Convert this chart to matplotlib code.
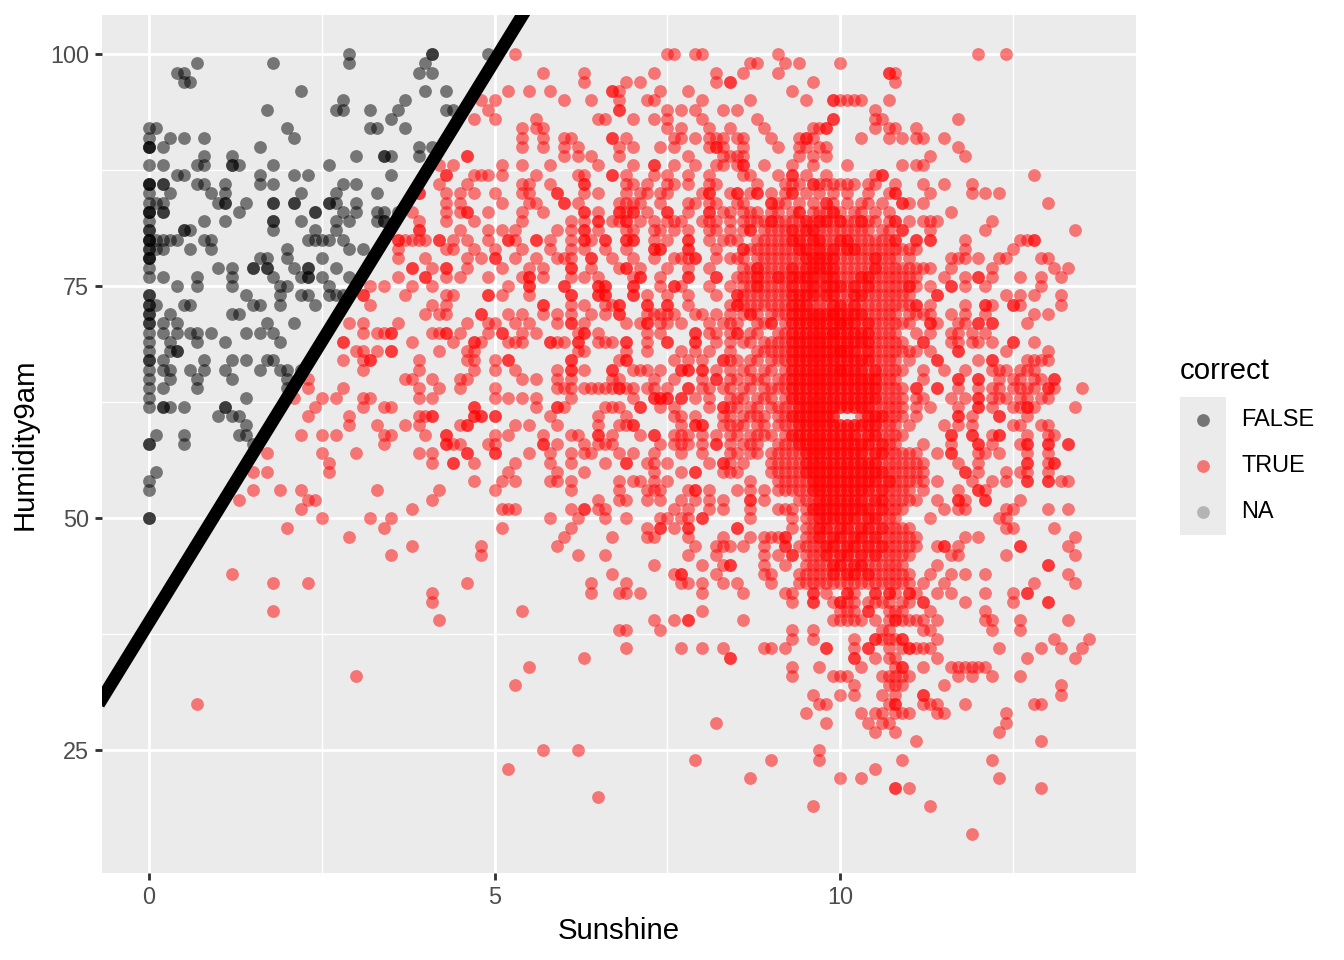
import matplotlib
matplotlib.use("Agg")
import matplotlib.pyplot as plt
from matplotlib.patches import Rectangle

plt.rcParams['font.family'] = ['Liberation Sans', 'DejaVu Sans']

# ---------------- data ----------------
# decision boundary (abline)
LINE_INTERCEPT = 38.8
LINE_SLOPE = 12.1

x_ticks = [0, 5, 10]
y_ticks = [25, 50, 75, 100]
legend_title = "correct"
legend_labels = ["FALSE", "TRUE", "NA"]
legend_colors = ["#000000", "#FF0000", "#7F7F7F"]

# Humidity9am -> Sunshine values (in tenths of an hour), points where correct == FALSE
false_rows = {
    100: "29 41 41 49",
    99: "7 18 29 40",
    98: "4 5 39 41",
    97: "5 6",
    96: "22 40 43",
    95: "28 37",
    94: "17 27 28 32 36 43 44",
    93: "35",
    92: "0 1 20 32 33 37",
    91: "0 3 5 8 21",
    90: "0 0 0 2 16 39 41",
    89: "8 12 30 34 34 35 39",
    88: "0 2 7 8 12 12 13 18 26",
    87: "4 5 16 21 23 35",
    86: "0 0 0 2 2 7 8 11 16 18 28 30",
    85: "0 3 9 11 22 27 33",
    84: "0 1 2 10 11 11 14 18 18 21 21 26 26 27 30",
    83: "0 0 0 2 2 13 24 24 28 30 33 34 36",
    82: "0 8 11 18 18 22 27 29 33 34 34",
    81: "0 0 5 5 6 18 24 27",
    80: "0 0 0 1 2 3 4 8 9 23 24 25 26 28",
    79: "0 0 1 2 6 9 20 29 31",
    78: "0 0 0 16 17 20 25",
    77: "0 10 12 15 15 17 17 21 23 23 27",
    76: "0 2 7 12 18 22 23 23 25 29",
    75: "4 7 12 19 20 26",
    74: "0 0 14 19 22 23 26 27 28",
    73: "0 0 1 5 6 15 16 19 24",
    72: "0 0 3 12 13",
    71: "0 0 2 4 17 21",
    70: "0 2 4 6 7 9 14 16 18",
    69: "0 3 7 11 19",
    68: "0 3 4 4",
    67: "0 0 2 8 12 14 17 18",
    66: "0 2 3 6 8 11 16 19 20 22",
    65: "0 3 7 12 20",
    64: "0 2 7 20",
    63: "0 14",
    62: "0 2 2 3 5 11 11",
    61: "10 12 13",
    60: "14",
    59: "1 5 13 14",
    58: "0 0 5 15",
    55: "1",
    54: "0",
    53: "0",
    50: "0 0",
}

# Humidity9am -> Sunshine values (in tenths of an hour), points where correct == TRUE
true_rows = {
    100: "53 75 76 79 80 91 120 124",
    99: "87 88 92 94 100",
    98: "57 63 73 82 86 91 107 107 108",
    97: "63 69 71 82 84 84 96 108",
    96: "52 55 58 67 67 68 74 78 93",
    95: "48 50 60 64 68 72 73 80 87 95 99 99 100 101 102 103 107",
    94: "49 68 68 75 77 79 83 85 105",
    93: "47 50 56 65 66 70 73 75 80 88 99 99 105 106 117",
    92: "54 56 57 75 77 81 84 89 96 97 98 98 105 107 108 111",
    91: "54 57 60 61 67 67 69 76 77 79 81 82 83 85 86 90 94 95 95 96 103 107 109 111 112 115",
    90: "54 57 60 62 68 70 74 76 81 82 82 83 86 91 94 95 97 98 117",
    89: "46 46 60 62 64 68 78 83 84 85 86 94 96 98 113 118",
    88: "42 44 51 54 58 65 70 73 73 76 79 82 83 85 86 86 89 93 96 101 109 111 112",
    87: "43 43 47 48 49 51 56 62 63 67 67 69 73 75 78 81 86 87 91 93 93 95 98 105 106 106 128",
    86: "42 46 54 55 58 63 63 69 70 72 75 76 78 81 82 93 94 96 96 98 99 101 102 105 108 112 115 119 88 92 97 100 104",
    85: "39 39 43 45 47 50 54 55 59 59 63 65 69 71 72 74 75 80 81 81 85 85 87 88 88 93 93 95 107 108 108 113 119 121 123 84 90 92 97 99 101 104",
    84: "43 45 51 55 56 60 60 62 68 69 70 71 74 78 79 81 82 86 90 90 91 98 98 103 106 109 109 110 112 130 85 92 94 96 99 101 104",
    83: "38 43 45 46 46 49 54 57 63 63 65 68 68 69 70 70 72 75 75 78 81 81 83 84 86 88 91 94 94 97 99 99 102 107 116 87 90 93 96 98 100 103 105",
    82: "39 43 47 54 61 63 65 65 67 68 69 69 71 73 75 76 77 80 81 82 84 86 87 88 90 90 91 94 95 96 97 98 98 100 100 102 103 103 105 107 108 108 110 112 113 114 122 89 92 93 95 97 99 101 104",
    81: "39 39 45 49 51 53 59 61 63 63 65 69 70 73 74 76 78 81 82 84 87 87 89 90 93 93 95 96 97 99 101 102 103 106 109 109 113 121 134 86 91 92 94 95 96 98 100 104 107",
    80: "36 36 37 38 39 40 42 42 44 46 49 52 52 53 56 56 58 61 63 63 64 66 66 69 69 70 70 73 75 78 78 81 83 84 85 88 89 91 93 93 95 96 99 101 101 103 106 108 108 111 111 113 113 118 126 127 128 128 90 92 94 94 96 97 97 98 100 100 102 104 105 107",
    79: "36 43 44 47 50 54 58 61 63 66 69 73 73 74 74 78 78 82 86 86 90 91 93 95 95 96 98 100 102 102 106 108 109 118 125 87 88 89 92 94 94 97 97 99 99 101 101 103 104 105 107 110 111",
    78: "36 40 46 48 50 50 53 56 59 60 61 64 64 67 70 73 76 77 78 79 79 82 84 85 90 93 95 95 97 98 98 100 101 105 105 116 117 118 120 123 124 129 130 86 88 89 91 92 94 96 96 97 99 99 102 103 104 106 107 108 110",
    77: "38 38 41 43 43 46 51 55 57 61 61 64 68 69 69 71 75 78 81 88 88 90 93 93 94 96 96 97 98 98 100 101 102 105 105 108 111 112 113 116 122 131 133 86 87 89 91 92 95 95 97 99 99 103 104 106 107 109 110",
    76: "36 40 40 43 45 49 54 55 55 57 61 63 65 70 71 71 74 78 78 82 82 86 88 88 91 91 92 93 93 95 95 97 98 100 103 103 105 106 107 110 115 118 120 120 122 126 129 132 85 87 89 90 94 94 96 96 98 99 99 101 102 104 104 108 109 111",
    75: "32 34 38 41 52 55 55 60 60 65 65 66 66 70 70 74 76 76 77 81 84 88 88 90 91 92 95 95 97 100 100 101 102 102 104 104 106 108 110 110 113 116 116 118 121 129 86 87 89 93 93 94 96 96 98 98 99 99 103 105 107 109 111",
    74: "31 31 37 43 44 49 49 51 55 61 61 65 65 66 66 70 70 72 75 78 82 85 85 87 90 92 93 94 94 95 95 97 100 101 102 102 104 105 106 109 114 114 124 126 128 132 86 88 89 91 93 96 96 98 98 99 99 103 103 107 108 110",
    73: "32 41 43 57 57 61 63 66 67 68 68 72 72 75 75 78 85 85 87 91 92 94 94 96 100 100 102 102 105 106 108 111 111 113 118 121 121 122 125 125 126 132 84 86 88 89 90 93 93 95 95 97 98 99 99 101 103 104 107 109 110",
    72: "40 42 43 48 48 52 54 57 59 61 64 66 68 68 72 73 74 75 76 79 80 82 84 86 87 87 88 90 91 92 93 94 95 96 96 97 97 98 99 99 100 101 101 102 103 104 105 106 107 108 110 111 112 113 116 118 121 128 130 93 94 95 98 99 100 102 103",
    71: "29 31 36 46 49 50 53 55 59 61 61 63 69 71 72 72 74 75 77 81 83 84 85 88 89 90 90 92 93 94 95 95 96 97 97 98 99 99 100 100 101 102 103 104 105 106 107 108 109 110 113 113 114 117 118 120 120 122 122 127 93 94 96 98 100 101 102 104",
    70: "31 33 34 35 35 41 42 43 43 45 49 51 51 54 56 62 63 63 65 72 74 79 79 81 82 84 85 85 87 88 91 92 93 94 94 95 96 97 97 98 99 99 100 100 101 102 102 103 104 105 106 107 108 111 113 116 117 119 121 93 95 96 98 99 101 103 104",
    69: "28 28 38 44 47 47 48 52 53 54 58 58 59 60 62 62 65 66 67 69 69 72 75 75 79 79 82 84 86 87 89 90 91 92 93 93 94 95 96 96 97 98 98 99 100 100 101 102 103 104 104 105 106 107 108 109 112 112 116 117 119 120 122 125 125 128 94 95 97 99 101 102 103",
    68: "30 31 33 35 35 42 46 47 62 63 69 72 77 79 81 84 88 89 90 91 92 93 94 95 95 96 97 97 98 98 99 100 100 101 102 103 104 105 106 107 108 109 110 111 113 117 117 124 130 93 94 96 99 100 101 102 104",
    67: "28 31 32 32 39 46 47 50 52 52 61 61 68 69 69 76 78 80 83 83 84 85 87 88 90 91 92 93 94 94 95 96 96 97 97 98 99 100 100 101 102 102 103 104 105 106 107 108 110 114 114 120 122 122 127 128 129 130 93 95 98 99 101 103 104",
    66: "31 39 47 50 53 59 61 61 63 67 67 70 71 72 74 77 77 78 78 80 80 82 84 86 87 89 90 92 93 94 95 95 96 97 98 98 99 100 100 101 101 102 103 104 105 106 107 108 109 112 115 118 122 123 124 126 127 128 93 94 96 97 99 100 102 103 105",
    65: "23 37 38 41 45 46 54 56 59 61 67 68 73 76 80 82 82 84 85 87 88 89 91 92 93 93 94 95 96 97 97 98 99 99 100 100 101 102 103 103 104 105 106 107 108 112 117 117 120 120 123 125 126 128 129 131 131 94 95 96 98 101 102 104 105",
    64: "23 28 39 42 45 50 59 60 61 63 64 65 66 67 68 68 69 70 72 73 75 78 78 80 81 83 84 86 87 89 90 91 92 93 94 94 95 96 97 97 98 99 99 100 101 101 102 103 104 104 105 106 107 108 109 111 111 114 114 117 120 122 123 125 126 127 128 130 130 131 135 93 95 96 98 100 102 103 105",
    63: "21 25 27 31 32 39 41 50 52 54 56 61 70 73 73 74 74 75 75 77 77 79 81 84 85 86 88 89 90 92 93 94 95 95 96 97 98 98 99 100 100 101 102 102 103 104 105 106 107 108 109 111 112 116 118 120 120 122 123 124 126 127 129 130 93 94 96 97 99 101 103 104 105",
    62: "24 31 34 35 47 47 56 59 59 60 66 67 68 71 71 74 76 81 83 83 84 85 87 88 90 91 92 93 94 95 96 96 97 98 99 99 100 101 101 102 103 104 105 106 107 108 109 111 113 117 120 120 122 125 126 127 127 128 134 94 95 97 98 100 102 103 104",
    61: "23 29 39 40 41 41 47 47 48 48 50 50 58 65 69 76 77 79 83 84 86 87 88 89 91 92 93 94 95 96 96 97 98 99 99 103 104 105 105 106 107 108 109 111 117 117 119 123 123 127 93 94 95 97 98 104 106",
    60: "29 33 37 39 45 46 46 53 55 59 65 68 69 70 70 77 79 79 80 80 83 84 85 86 88 89 91 92 93 94 95 96 96 97 98 98 99 100 101 102 102 103 104 105 106 107 108 110 115 117 119 125 126 129 130 94 95 97 99 100 101 103 104 105",
    59: "22 25 27 34 35 40 43 43 50 52 57 61 62 65 65 67 71 73 73 76 77 78 80 82 84 85 87 88 89 90 92 93 93 94 95 96 97 97 98 99 100 101 102 102 103 104 105 106 107 108 109 116 116 119 119 122 123 123 127 130 131 94 95 96 98 99 100 101 104 105",
    58: "34 43 43 44 45 49 50 57 57 59 63 65 66 67 74 76 77 78 80 82 82 84 86 87 88 91 92 93 94 95 96 97 97 98 98 99 100 100 101 102 103 104 105 106 107 108 112 116 120 120 122 126 127 127 130 130 133 133 94 95 96 99 101 102 103 104 106",
    57: "17 25 30 39 41 46 46 50 50 55 58 61 63 64 68 70 73 77 80 84 85 87 88 90 91 92 93 94 95 96 97 97 98 99 99 100 101 102 103 104 105 106 107 108 109 110 111 114 116 116 120 121 123 127 130 95 96 98 100 101 102 103 105 106",
    56: "26 41 44 44 47 53 58 61 66 69 69 72 73 75 81 83 83 84 86 90 91 92 93 94 95 96 96 97 98 99 99 100 101 102 102 103 104 105 106 107 108 109 110 111 112 117 120 127 127 130 131 131 95 97 98 100 101 103 104 105",
    55: "15 17 26 52 59 63 73 77 79 79 83 84 85 90 91 92 93 94 95 96 97 98 98 99 100 101 102 103 103 104 105 106 107 108 109 110 111 112 118 118 120 124 126 127 130 95 96 97 99 100 101 102 104 105 106",
    54: "47 51 53 58 59 61 68 70 71 73 75 87 91 92 93 94 95 96 97 98 98 99 100 101 101 102 103 104 105 106 107 108 109 110 111 112 114 119 122 124 127 127 130 130 132 133 96 97 99 100 102 103 104 105 107",
    53: "15 19 22 33 42 50 61 68 72 73 74 78 79 79 81 85 87 89 91 92 93 94 95 96 97 98 99 99 100 101 101 102 103 104 105 106 107 108 109 110 112 117 120 120 121 96 97 98 100 102 103 104 106",
    52: "13 23 24 41 65 68 69 72 74 77 79 81 83 87 87 89 94 95 96 97 98 99 100 100 101 102 103 104 105 106 107 108 109 110 111 114 117 117 118 121 121 126 97 98 99 101 102 103 105 106",
    51: "22 38 51 52 53 61 63 63 65 66 76 78 81 83 87 91 92 93 95 96 97 98 99 100 101 102 102 103 104 105 106 107 108 109 115 117 118 124 125 130 133 96 97 98 99 100 101 103 104 106",
    50: "25 32 35 58 62 66 69 74 75 77 78 80 80 87 93 95 96 97 98 99 100 100 101 102 103 104 105 106 107 108 113 123 124 97 98 99 101 102 104 105",
    49: "20 34 51 61 72 74 74 76 78 78 85 85 93 95 96 97 98 99 100 101 102 103 104 105 106 107 108 109 110 124 125 131 97 98 100 101 103 104 106",
    48: "29 60 67 72 73 78 83 87 89 90 91 92 92 95 96 97 98 99 100 101 102 103 104 105 106 107 108 109 110 111 118 120 134 97 99 100 102 103 105",
    47: "38 48 59 79 82 83 84 86 89 92 92 94 95 96 97 98 99 100 101 102 103 104 105 106 107 108 109 110 111 114 115 115 117 126 126 133 98 99 101 102 104 106",
    46: "35 48 62 66 78 82 89 91 93 93 95 96 97 98 99 100 101 102 103 104 105 106 107 108 109 110 116 117 124 134 98 100 101 103 105",
    45: "73 80 83 84 84 89 92 95 96 97 98 99 100 101 102 103 104 105 106 107 108 109 114 130 130 99 100 102 103",
    44: "12 67 76 77 77 82 89 90 94 95 96 97 98 99 100 101 102 103 104 105 106 107 108 109 110 113 116 118 121 133 99 101 102 104",
    43: "18 23 46 64 69 77 78 80 83 85 90 94 95 96 97 98 99 100 101 102 103 104 105 106 107 108 109 110 112 115 128 134",
    42: "41 64 68 69 71 80 86 92 93 96 96 98 101 101 102 105 105 107 107 108 110 110 111 114 116 121 125 127 127",
    41: "41 93 96 96 99 100 100 101 102 104 105 106 107 109 110 112 112 118 125 130 130",
    40: "18 54 80 100 101 102 104 104 107 108 109 113 121",
    39: "42 73 76 78 78 86 99 100 101 102 103 105 107 108 108 109 110 111 112 114 121 122 126 133",
    38: "68 69 74 93 96 106 107 112 113 122 126",
    37: "93 96 102 105 105 106 107 108 109 109 114 131 136",
    36: "69 77 80 83 89 90 92 98 98 102 104 104 107 109 110 110 111 112 113 123 129 132 135",
    35: "63 84 84 102 102 105 107 108 114 127 134",
    34: "55 93 97 103 108 109 109 112 116 117 118 119 120 121",
    33: "30 93 99 100 101 106 107 108 109 110 117 119 122 126",
    32: "53 102 107 108 109 115 132",
    31: "96 100 102 106 108 112 112 132",
    30: "7 97 98 107 108 108 112 113 114 118 128 129",
    29: "95 103 105 106 108 109 110 114 115 124",
    28: "82 98 104 106 107 124",
    27: "105 108 123",
    26: "111 129",
    25: "57 62 97",
    24: "79 90 97 109 122",
    23: "52 105",
    22: "87 100 103 123",
    21: "108 108 110 129",
    20: "65",
    19: "96 113",
    16: "119",
}


def expand(rows):
    xs, ys = [], []
    for hum, vals in rows.items():
        for v in vals.split():
            xs.append(int(v) / 10.0)
            ys.append(hum)
    return xs, ys


false_x, false_y = expand(false_rows)
true_x, true_y = expand(true_rows)

# ---------------- figure ----------------
W, H = 1344, 960
fig = plt.figure(figsize=(7, 5), dpi=192)
fig.patch.set_facecolor("white")

ax = fig.add_axes([102 / W, 1 - 873 / H, (1136 - 102) / W, (873 - 15) / H])
ax.set_facecolor("#EBEBEB")
for sp in ax.spines.values():
    sp.set_visible(False)

ax.set_xlim(-0.68, 14.28)
ax.set_ylim(11.8, 104.2)
ax.set_xticks(x_ticks)
ax.set_yticks(y_ticks)
ax.set_xticks([2.5, 7.5, 12.5], minor=True)
ax.set_yticks([37.5, 62.5, 87.5], minor=True)
ax.grid(True, which="major", color="white", linewidth=1.07)
ax.grid(True, which="minor", color="white", linewidth=0.53)
ax.set_axisbelow(True)
ax.tick_params(axis="both", which="major", length=2.75, width=1.07,
               color="#333333", labelsize=8.8, labelcolor="#4D4D4D", pad=2.2)
ax.tick_params(axis="both", which="minor", length=0)

PT_SIZE = 23
ax.scatter(true_x, true_y, s=PT_SIZE, c=legend_colors[1], alpha=0.5,
           linewidths=0, zorder=2)
ax.scatter(false_x, false_y, s=PT_SIZE, c=legend_colors[0], alpha=0.5,
           linewidths=0, zorder=3)
ax.axline((0, LINE_INTERCEPT), slope=LINE_SLOPE, color="black", lw=4.8,
          zorder=4)

fig.text(619 / W, 1 - 931 / H, "Sunshine", ha="center", va="center",
         fontsize=11, color="black")
fig.text(25 / W, 1 - 444 / H, "Humidity9am", ha="center", va="center",
         rotation=90, fontsize=11, color="black")

# ---------------- legend ----------------
lg = fig.add_axes([0, 0, 1, 1], facecolor="none")
lg.set_xlim(0, W)
lg.set_ylim(H, 0)
lg.axis("off")
lg.text(1180, 371, legend_title, ha="left", va="center", fontsize=11,
        color="black")
for i, (lab, col) in enumerate(zip(legend_labels, legend_colors)):
    top = 397 + 46 * i
    lg.add_patch(Rectangle((1180, top), 46, 46, facecolor="#EBEBEB",
                           edgecolor="none"))
    lg.scatter([1203], [top + 23], s=PT_SIZE, c=col, alpha=0.5,
               linewidths=0)
    lg.text(1241, top + 23, lab, ha="left", va="center", fontsize=8.8,
            color="black")

fig.savefig("out.png", dpi=192)
